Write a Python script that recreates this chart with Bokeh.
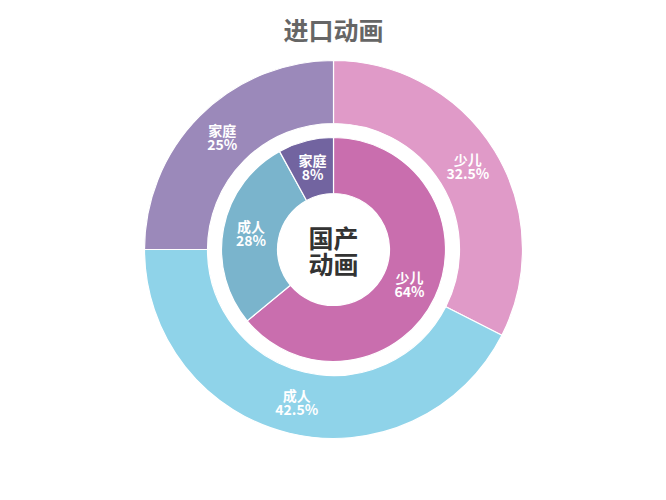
import numpy as np
from bokeh.plotting import figure
from bokeh.models import ColumnDataSource, Range1d
from bokeh.core.properties import value
from bokeh.embed import file_html
from bokeh.resources import INLINE

title_text = "进口动画"
center_text = ["国产", "动画"]
categories = ["少儿", "成人", "家庭"]
outer_values = [32.5, 42.5, 25]   # 进口动画
inner_values = [64, 28, 8]        # 国产动画
outer_colors = ["#E09AC8", "#8FD3E9", "#9B89BA"]
inner_colors = ["#C96EAE", "#7AB4CC", "#7264A0"]

W, H = 666, 500
cx, cy = 333, H - 249
FONT = "Noto Sans CJK SC"

p = figure(width=W, height=H, output_backend="svg", toolbar_location=None,
           x_range=Range1d(0, W), y_range=Range1d(0, H), min_border=0)
p.axis.visible = False
p.grid.visible = False
p.outline_line_color = None
p.background_fill_color = "white"


def ring(values, colors, r_in, r_out):
    vals = np.array(values, dtype=float)
    frac = vals / vals.sum()
    cum = np.concatenate([[0], np.cumsum(frac)])
    start = np.pi / 2 - cum[:-1] * 2 * np.pi
    end = np.pi / 2 - cum[1:] * 2 * np.pi
    mid = (start + end) / 2
    rm = (r_in + r_out) / 2
    src = ColumnDataSource(dict(
        x=[cx] * len(vals), y=[cy] * len(vals),
        start=start, end=end, color=colors,
        lx=cx + rm * np.cos(mid), ly=cy + rm * np.sin(mid),
        name=categories, pct=[f"{v:g}%" for v in values],
    ))
    p.annular_wedge(x="x", y="y", inner_radius=r_in, outer_radius=r_out,
                    start_angle="start", end_angle="end", direction="clock",
                    fill_color="color", line_color="white", line_width=1.2,
                    source=src)
    p.text(x="lx", y="ly", text="name", source=src, y_offset=-8,
           text_font=value(FONT), text_font_style="bold", text_font_size="14px",
           text_color="white", text_align="center", text_baseline="middle")
    p.text(x="lx", y="ly", text="pct", source=src, y_offset=6,
           text_font=value(FONT), text_font_style="bold", text_font_size="14px",
           text_color="white", text_align="center", text_baseline="middle")


ring(outer_values, outer_colors, 126, 189)
ring(inner_values, inner_colors, 56, 112)

p.text(x=[cx], y=[H - 28], text=[title_text], text_font=value(FONT),
       text_font_style="bold", text_font_size="25px", text_color="#666666",
       text_align="center", text_baseline="middle")
p.text(x=[cx, cx], y=[H - 236, H - 262], text=center_text, text_font=value(FONT),
       text_font_style="bold", text_font_size="25px", text_color="#333333",
       text_align="center", text_baseline="middle")

open("out.html", "w").write(file_html(p, INLINE))
